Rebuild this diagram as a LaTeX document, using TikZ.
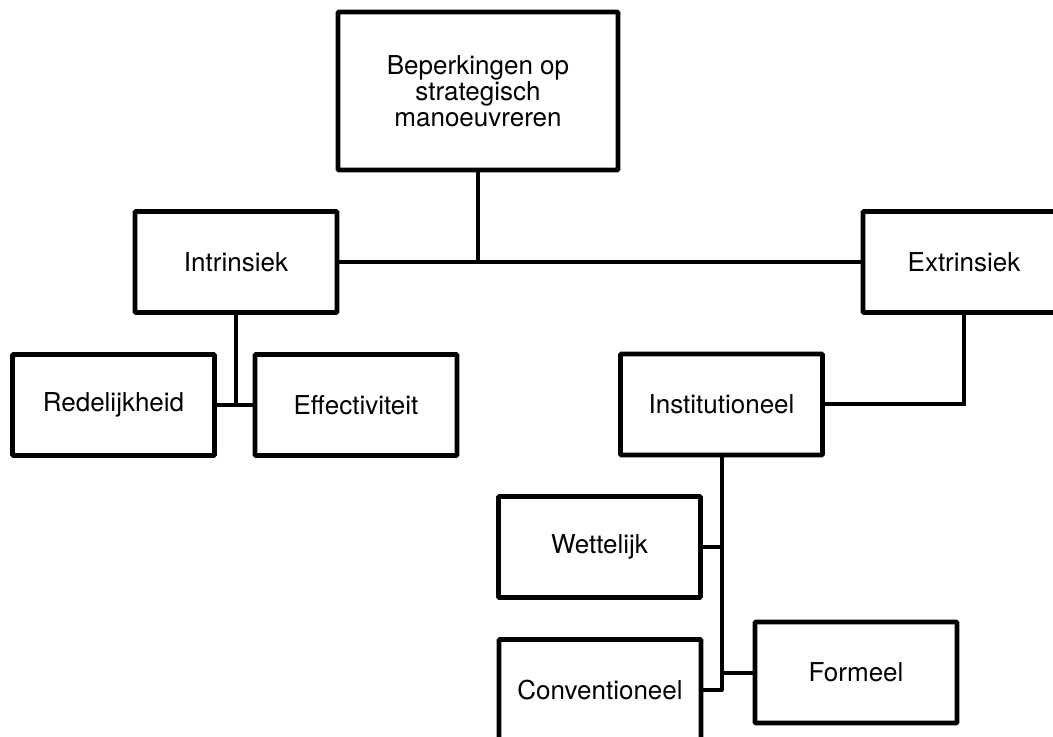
\documentclass[tikz,border=0pt]{standalone}
\usepackage{fontspec}
\setmainfont{TeX Gyre Heros}
\begin{document}
\begin{tikzpicture}[x=0.75pt,y=-0.75pt,
  box/.style={draw=black, line width=3.4pt, rounded corners=0.6pt, fill=white,
    minimum width=151.5pt, minimum height=75.75pt, inner sep=0pt, align=center,
    font=\fontsize{19.5}{19.5}\selectfont},
  link/.style={draw=black, line width=3pt}]
\useasboundingbox (0,0) rectangle (1053,737);
\clip (0,0) rectangle (1053,737);
% connectors first
\node[box, minimum width=210pt, minimum height=118.5pt] (root) at (478,91) {Beperkingen op\\strategisch\\manoeuvreren};
\node[box] (intr) at (236,262) {Intrinsiek};
\node[box] (extr) at (964,262) {Extrinsiek};
\node[box] (redel) at (113.5,405) {Redelijkheid};
\node[box] (effect) at (356,405) {Effectiviteit};
\node[box] (inst) at (721.5,404.5) {Institutioneel};
\node[box] (wett) at (599.5,547) {Wettelijk};
\node[box] (form) at (856,672.5) {Formeel};
\node[box] (conv) at (600,690) {Conventioneel};
\coordinate (hj) at (root.south |- intr.east);
\coordinate (ij) at (intr.south |- redel.east);
\coordinate (cj) at (inst.south |- conv.east);
\draw[link] (intr.east) -- (extr.west);
\draw[link] (root.south) -- (hj);
\draw[link] (intr.south) -- (ij);
\draw[link] (redel.east) -- (effect.west);
\draw[link] (extr.south) |- (inst.east);
\draw[link, line join=round] (inst.south) -- (cj) -- (conv.east);
\draw[link] (wett.east) -- (inst.south |- wett.east);
\draw[link] (form.west) -- (inst.south |- form.west);
\end{tikzpicture}
\end{document}
